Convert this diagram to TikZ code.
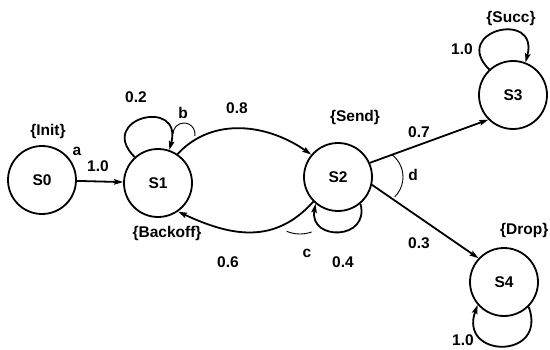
\documentclass[tikz,border=0pt]{standalone}
\usepackage{fontspec}
\setmainfont{Liberation Sans}
\usetikzlibrary{arrows.meta}

\tikzset{
  state/.style={draw, circle, line width=1.8pt, minimum size=68pt, inner sep=0pt,
                font=\fontsize{15.5}{18}\selectfont\bfseries},
  lbl/.style={inner sep=0pt, font=\fontsize{15.5}{18}\selectfont\bfseries},
  edge/.style={line width=1.8pt, -{Stealth[length=9pt,width=5.5pt,inset=1.5pt]}},
  anglemark/.style={line width=0.9pt}
}

\begin{document}
\begin{tikzpicture}[x=1pt,y=1pt]
\useasboundingbox (0,0) rectangle (550,349);

% states
\node[state] (S0) at (42,169) {S0};
\node[state] (S1) at (158,166) {S1};
\node[state] (S2) at (338,172) {S2};
\node[state] (S3) at (513,254) {S3};
\node[state] (S4) at (504,67) {S4};

% state annotations
\node[lbl] (tInit) at (48,218) {\{Init\}};
\node[lbl] (tBackoff) at (167,116) {\{Backoff\}};
\node[lbl] (tSend) at (355,232) {\{Send\}};
\node[lbl] (tSucc) at (511,331) {\{Succ\}};
\node[lbl, anchor=west] (tDrop) at (500,119) {\{Drop\}};

% transitions
\draw[edge] (S0) -- (S1);
\draw[edge] (S1.132) .. controls +(135:55) and +(75:55) .. (S1.71);
\draw[edge] (S1.56) to[out=47,in=145] (S2.140);
\draw[edge] (S2.225) to[out=228,in=-25,looseness=1.1] (S1.-55);
\draw[edge] (S2.-50) .. controls +(-75:38) and +(-100:38) .. (S2.-130);
\draw[edge] (S2.24) -- (S3.225);
\draw[edge] (S2.-13) -- (S4.137);
\draw[edge] (S3.133) .. controls +(135:55) and +(75:55) .. (S3.69);
\draw[edge] (S4.-45) .. controls +(-70:57) and +(-110:57) .. (S4.-139);

% angle marks
\draw[anglemark] (184,215) ++(180:11) arc[start angle=180, end angle=-10, radius=11];
\draw[anglemark] (300,149) ++(247:34) arc[start angle=247, end angle=290, radius=34];
\draw[anglemark] (375,172) ++(52:28) arc[start angle=52, end angle=-45, radius=28];

% transition labels
\node[lbl] (la) at (77,198) {a};
\node[lbl] (p01) at (98,183) {1.0};
\node[lbl] (p11) at (136,252) {0.2};
\node[lbl] (lb) at (183,236) {b};
\node[lbl] (p12) at (237,241) {0.8};
\node[lbl] (p21) at (228,87) {0.6};
\node[lbl] (lc) at (307,96) {c};
\node[lbl] (p22) at (343,87) {0.4};
\node[lbl] (p23) at (419,217) {0.7};
\node[lbl] (ld) at (413,174) {d};
\node[lbl] (p24) at (419,106) {0.3};
\node[lbl] (p33) at (462,300) {1.0};
\node[lbl] (p44) at (463,9) {1.0};
\end{tikzpicture}
\end{document}
